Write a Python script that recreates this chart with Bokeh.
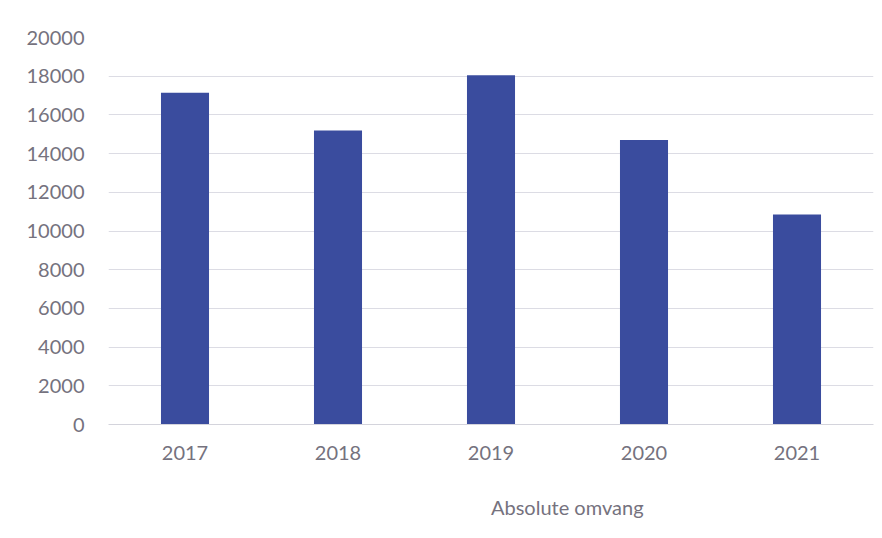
from bokeh.plotting import figure
from bokeh.layouts import column
from bokeh.models import (ColumnDataSource, FactorRange, Range1d, Legend, LegendItem,
                          SingleIntervalTicker)
from bokeh.embed import file_html
from bokeh.resources import INLINE

years = ["2017", "2018", "2019", "2020", "2021"]
values = [17150, 15200, 18050, 14700, 10850]
series_name = "Absolute omvang"

BAR = "#3a4c9e"
TXT = "#75727e"
FONT = "Lato"

src = ColumnDataSource(dict(x=years, top=values))

# main chart
p = figure(width=874, height=472,
           x_range=FactorRange(factors=years, range_padding=0),
           y_range=Range1d(0, 20000), output_backend="svg", toolbar_location=None,
           min_border_left=108, min_border_right=1, min_border_top=37, min_border_bottom=48)

r = p.vbar(x="x", top="top", width=0.314, source=src, fill_color=BAR, line_color=None)

p.yaxis.ticker = SingleIntervalTicker(interval=2000)
for ax in (p.xaxis[0], p.yaxis[0]):
    ax.major_label_text_font = FONT
    ax.major_label_text_font_size = "20px"
    ax.major_label_text_color = TXT
    ax.major_tick_line_color = None
    ax.minor_tick_line_color = None
    ax.major_tick_out = 0
    ax.major_tick_in = 0
p.yaxis.axis_line_color = None
p.yaxis.major_label_standoff = 20
p.xaxis.axis_line_color = "#d4d4dc"
p.xaxis.major_label_standoff = 21

p.xgrid.grid_line_color = None
p.ygrid.grid_line_color = "#dcdce4"
p.ygrid.grid_line_width = 1
p.outline_line_color = None

# legend strip below the chart
p2 = figure(width=874, height=58, x_range=Range1d(0, 1), y_range=Range1d(0, 1),
            x_axis_type=None, y_axis_type=None, output_backend="svg", toolbar_location=None,
            min_border=0)
p2.xgrid.grid_line_color = None
p2.ygrid.grid_line_color = None
p2.outline_line_color = None
key_src = ColumnDataSource(dict(x=[], top=[]))
r2 = p2.vbar(x="x", top="top", width=0.1, source=key_src, fill_color=BAR, line_color=None)

legend = Legend(items=[LegendItem(label=series_name, renderers=[r2])],
                location=(367, 11), orientation="horizontal",
                glyph_width=12, glyph_height=12, label_standoff=4, label_height=20,
                label_text_font=FONT, label_text_font_size="20px", label_text_color=TXT,
                padding=4, margin=0, border_line_color=None, background_fill_alpha=0)
p2.add_layout(legend, "center")

layout = column(p, p2, spacing=0)
open("out.html", "w").write(file_html(layout, INLINE))
